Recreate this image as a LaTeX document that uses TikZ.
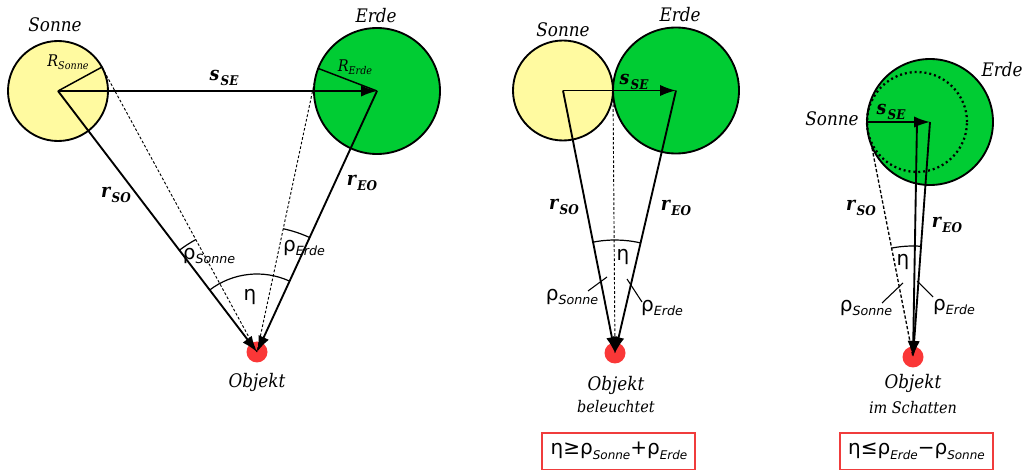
\documentclass[tikz,border=0pt]{standalone}
\usepackage{fontspec}
\usetikzlibrary{arrows.meta,calc}
\newfontfamily\labfont{DejaVu Serif Condensed}
\newfontfamily\grfont{DejaVu Sans}
\definecolor{sunfill}{RGB}{255,250,160}
\definecolor{earthfill}{RGB}{0,204,51}
\definecolor{objred}{RGB}{250,55,55}
\definecolor{boxred}{RGB}{240,60,60}
\newcommand{\lbl}[1]{{\labfont\itshape\fontsize{14}{16}\selectfont #1}}
\newcommand{\smalllbl}[1]{{\labfont\itshape\fontsize{12}{14}\selectfont #1}}
\newcommand{\vecl}[2]{{\labfont\bfseries\itshape\fontsize{14.5}{16}\selectfont #1\kern1pt\raisebox{-0.45ex}{\fontsize{10}{11}\selectfont #2}}}
\newcommand{\radl}[2]{{\labfont\itshape\fontsize{12}{14}\selectfont #1\raisebox{-0.4ex}{\fontsize{8}{9}\selectfont #2}}}
\newcommand{\subtxt}[1]{\raisebox{-0.45ex}{\fontsize{9.5}{10}\selectfont\itshape #1}}
\newcommand{\boxsub}[1]{\raisebox{-0.45ex}{\fontsize{9}{10}\selectfont\itshape #1}}
\newcommand{\myrho}[1]{{\grfont\fontsize{15}{17}\selectfont ρ\subtxt{#1}}}
\newcommand{\myeta}{{\grfont\fontsize{15}{17}\selectfont η}}
\begin{document}
\begin{tikzpicture}[x=0.75pt,y=0.75pt,
  txt/.style={inner sep=0pt,outer sep=0pt},
  vecline/.style={line width=1.4pt,-{Latex[length=12pt,width=8.5pt]}},
  thinline/.style={line width=1.1pt},
  dotline/.style={line width=0.7pt,dash pattern=on 2pt off 1.5pt},
  dotline2/.style={line width=1pt,dash pattern=on 2.5pt off 1.5pt},
  dotcircle/.style={line width=1.7pt,dash pattern=on 1.5pt off 2.2pt},
  sunstyle/.style={draw=black,line width=1.4pt,fill=sunfill},
  earthstyle/.style={draw=black,line width=1.4pt,fill=earthfill},
  anglearc/.style={line width=0.9pt},
  leader/.style={line width=0.8pt},
  formulabox/.style={draw=boxred,line width=1.4pt}]
\useasboundingbox (0,0) rectangle (1026,472);
% ---------------- left panel ----------------
\coordinate (S1) at (58,381);
\coordinate (E1) at (377,381);
\coordinate (O1) at (257,120);
\coordinate (T1) at ($(O1)+(118.56:324.4)$);
\coordinate (T2) at ($(O1)+(77.98:280.3)$);
\coordinate (RE1) at ($(E1)+(159:63)$);
\path[sunstyle] (S1) circle[radius=50];
\path[earthstyle] (E1) circle[radius=63];
\fill[objred] (O1) circle[radius=10.5];
\draw[thinline] (S1) -- (T1);
\draw[thinline] (RE1) -- (E1);
\draw[dotline] (T1) -- (O1);
\draw[dotline] (T2) -- (O1);
\draw[vecline] (S1) -- (E1);
\draw[vecline] (S1) -- (O1);
\draw[vecline] (E1) -- (O1);
\draw[anglearc] ($(O1)+(118.56:128)$) arc[start angle=118.56,end angle=127.32,radius=128];
\draw[anglearc] ($(O1)+(65.31:126)$) arc[start angle=65.31,end angle=77.98,radius=126];
\draw[anglearc] ($(O1)+(65.31:78)$) arc[start angle=65.31,end angle=127.32,radius=78];
\node[txt] (sonneL) at (55,447) {\lbl{Sonne}};
\node[txt] (erdeL) at (376,456) {\lbl{Erde}};
\node[txt] (rsL) at (68,410) {\radl{R}{Sonne}};
\node[txt] (reL) at (355,405) {\radl{R}{Erde}};
\node[txt] (sseL) at (224,394) {\vecl{s}{SE}};
\node[txt] (rsoL) at (116,277) {\vecl{r}{SO}};
\node[txt] (reoL) at (362,289) {\vecl{r}{EO}};
\node[txt] (rhosL) at (209,216) {\myrho{Sonne}};
\node[txt] (rhoeL) at (304,224) {\myrho{Erde}};
\node[txt] (etaL) at (250,175) {\myeta};
\node[txt] (objL) at (257,90) {\lbl{Objekt}};
% ---------------- middle panel ----------------
\coordinate (S2) at (563,381.5);
\coordinate (E2) at (676,381.5);
\coordinate (O2) at (615,119);
\coordinate (C2) at (613,381.5);
\path[sunstyle] (S2) circle[radius=50];
\path[earthstyle] (E2) circle[radius=63];
\fill[objred] (O2) circle[radius=10.5];
\draw[dotline] (C2) -- (O2);
\draw[vecline] (S2) -- (E2);
\draw[vecline] (S2) -- (O2);
\draw[vecline] (E2) -- (O2);
\draw[anglearc] ($(O2)+(76.9:113)$) arc[start angle=76.9,end angle=101.2,radius=113];
\coordinate (LA1) at (607,195);
\coordinate (LA2) at (588,181);
\coordinate (LB1) at (627,193);
\coordinate (LB2) at (642,170);
\draw[leader] (LA1) -- (LA2);
\draw[leader] (LB1) -- (LB2);
\node[txt] (sonneM) at (563,442) {\lbl{Sonne}};
\node[txt] (erdeM) at (680,457) {\lbl{Erde}};
\node[txt] (sseM) at (634,390) {\vecl{s}{SE}};
\node[txt] (rsoM) at (564,265) {\vecl{r}{SO}};
\node[txt] (reoM) at (676,264) {\vecl{r}{EO}};
\node[txt] (etaM) at (623,215) {\myeta};
\node[txt] (rhosM) at (572,175) {\myrho{Sonne}};
\node[txt] (rhoeM) at (662,164) {\myrho{Erde}};
\node[txt] (objM) at (616,87) {\lbl{Objekt}};
\node[txt] (belM) at (616,65) {\smalllbl{beleuchtet}};
\draw[formulabox] (542,2.5) rectangle (695,39);
\node[txt] (formM) at (619,21) {{\grfont\fontsize{15}{17}\selectfont η≥ρ\boxsub{Sonne}+ρ\boxsub{Erde}}};
% ---------------- right panel ----------------
\coordinate (E3) at (930,350);
\coordinate (S3) at (917,350);
\coordinate (L3) at (867,350);
\coordinate (O3) at (913,115);
\coordinate (T3) at (872,324);
\path[earthstyle] (E3) circle[radius=63];
\draw[dotcircle] (S3) circle[radius=50];
\fill[objred] (O3) circle[radius=10.5];
\draw[dotline2] (T3) -- (O3);
\draw[vecline] (L3) -- (E3);
\draw[vecline] (S3) -- (O3);
\draw[vecline] (E3) -- (O3);
\draw[anglearc] ($(O3)+(85.9:111)$) arc[start angle=85.9,end angle=101.1,radius=111];
\coordinate (LC1) at (903,189);
\coordinate (LC2) at (882,169);
\coordinate (LD1) at (917,191);
\coordinate (LD2) at (933,175);
\draw[leader] (LC1) -- (LC2);
\draw[leader] (LD1) -- (LD2);
\node[txt] (erdeR) at (1002,402) {\lbl{Erde}};
\node[txt] (sonneR) at (832,353) {\lbl{Sonne}};
\node[txt] (sseR) at (891,360) {\vecl{s}{SE}};
\node[txt] (rsoR) at (861,264) {\vecl{r}{SO}};
\node[txt] (reoR) at (947,247) {\vecl{r}{EO}};
\node[txt] (etaR) at (903,210) {\myeta};
\node[txt] (rhosR) at (866,164) {\myrho{Sonne}};
\node[txt] (rhoeR) at (954,165) {\myrho{Erde}};
\node[txt] (objR) at (913,89) {\lbl{Objekt}};
\node[txt] (schR) at (913,64) {\smalllbl{im Schatten}};
\draw[formulabox] (840,2.5) rectangle (993,39);
\node[txt] (formR) at (916.5,21) {{\grfont\fontsize{15}{17}\selectfont η≤ρ\boxsub{Erde}−ρ\boxsub{Sonne}}};
\end{tikzpicture}
\end{document}
